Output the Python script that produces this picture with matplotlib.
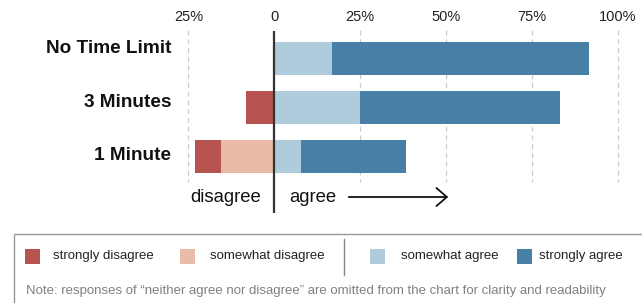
import matplotlib
matplotlib.use("Agg")
import matplotlib.pyplot as plt
from matplotlib.patches import Rectangle, FancyArrowPatch
from matplotlib.lines import Line2D

plt.rcParams['font.family'] = ['Liberation Sans', 'DejaVu Sans']

categories = ["No Time Limit", "3 Minutes", "1 Minute"]
strongly_disagree = [0.0, 100 / 12, 100 / 13]
somewhat_disagree = [0.0, 0.0, 200 / 13]
somewhat_agree = [200 / 12, 300 / 12, 100 / 13]
strongly_agree = [900 / 12, 700 / 12, 400 / 13]
tick_values = [-25, 0, 25, 50, 75, 100]
tick_labels = ["25%", "0", "25%", "50%", "75%", "100%"]
legend_labels = ["strongly disagree", "somewhat disagree", "somewhat agree", "strongly agree"]
note = "Note: responses of \u201cneither agree nor disagree\u201d are omitted from the chart for clarity and readability"

c_sd = "#B85450"
c_swd = "#EABBA6"
c_swa = "#AFCCDD"
c_sa = "#487FA7"

W, H = 642, 303
fig = plt.figure(figsize=(W / 100, H / 100), dpi=100)

# main axes: pixel x 150..642, y 0..225 (from top)
ax = fig.add_axes([150 / W, 1 - 225 / H, (W - 150) / W, 225 / H])
ppu = 3.434
x0 = 274.3
ax.set_xlim(-(x0 - 150) / ppu, (W - x0) / ppu)
sp = 49.0
yc0 = 58.5
ax.set_ylim((225 - yc0) / sp, -yc0 / sp)
ax.axis("off")

ypos = list(range(len(categories)))
bh = 0.68

# gridlines
ax.vlines([v for v in tick_values if v != 0], (30 - yc0) / sp, (182 - yc0) / sp,
          colors="#cccccc", linestyles=(0, (4, 3)), linewidth=0.9, zorder=0)

for i, y in enumerate(ypos):
    sd = strongly_disagree[i]
    swd = somewhat_disagree[i]
    swa = somewhat_agree[i]
    sa = strongly_agree[i]
    ax.barh(y, -swd, left=0, height=bh, color=c_swd, linewidth=0, zorder=2)
    ax.barh(y, -sd, left=-swd, height=bh, color=c_sd, linewidth=0, zorder=2)
    ax.barh(y, swa, left=0, height=bh, color=c_swa, linewidth=0, zorder=2)
    ax.barh(y, sa, left=swa, height=bh, color=c_sa, linewidth=0, zorder=2)
    ax.text((171 - x0) / ppu, -0.2 + 1.09 * y, categories[i], ha="right", va="center",
            fontsize=13.7, fontweight="bold", color="#111111")

# zero line
ax.vlines(0, (31 - yc0) / sp, (213 - yc0) / sp, colors="#333333", linewidth=1.6, zorder=3)

# tick labels on top
for v, lab in zip(tick_values, tick_labels):
    ax.text(v, (17 - yc0) / sp, lab, ha="center", va="center", fontsize=10.5, color="#222222")

ylab = (197 - yc0) / sp
ax.text((261 - x0) / ppu, ylab, "disagree", ha="right", va="center", fontsize=13.3, color="#111111")
ax.text((289 - x0) / ppu, ylab, "agree", ha="left", va="center", fontsize=13.3, color="#111111")
arr = FancyArrowPatch(((346 - x0) / ppu, ylab), ((451 - x0) / ppu, ylab),
                      arrowstyle="->,head_length=7.5,head_width=6.5", color="#111111",
                      linewidth=1.3, mutation_scale=1)
ax.add_patch(arr)

# legend overlay axes in pixel coordinates
lg = fig.add_axes([0, 0, 1, 1])
lg.set_xlim(0, W)
lg.set_ylim(H, 0)
lg.axis("off")
lg.add_patch(Rectangle((13.5, 233.5), W, 100, facecolor="white", edgecolor="#999999", linewidth=1))
colors = [c_sd, c_swd, c_swa, c_sa]
sq_x = [25, 180, 370, 517]
txt_x = [53, 210, 401, 539]
for lab, c, sx, tx in zip(legend_labels, colors, sq_x, txt_x):
    lg.add_patch(Rectangle((sx, 249), 15, 15, facecolor=c, edgecolor="none"))
    lg.text(tx, 256.5, lab, ha="left", va="center", fontsize=9.5, color="#222222")
lg.add_line(Line2D([344, 344], [239, 275], color="#888888", linewidth=1))
lg.text(26, 291, note, ha="left", va="center", fontsize=9.55, color="#808080")

fig.savefig("out.png", dpi=100)
